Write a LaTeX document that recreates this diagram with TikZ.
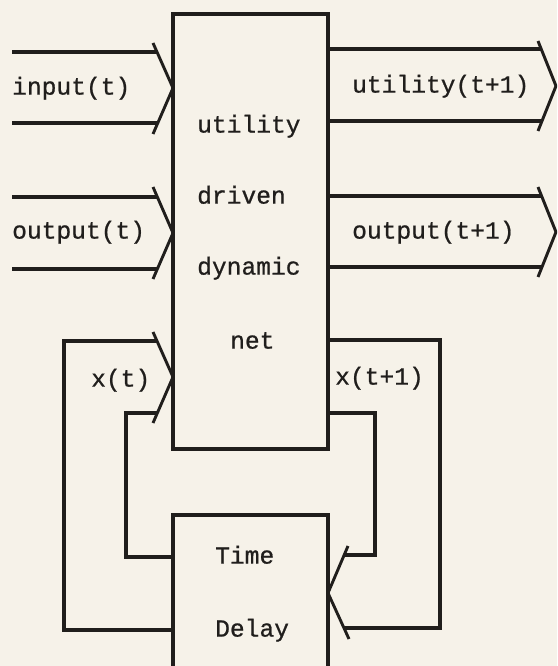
\documentclass[tikz,border=0pt]{standalone}
\usepackage{fontspec}
\newfontfamily\twfont[FakeBold=0.8]{Liberation Mono}
\definecolor{paper}{RGB}{246,242,233}
\definecolor{ink}{RGB}{32,30,28}
\begin{document}
\begin{tikzpicture}[x=1pt,y=-1pt,
  wire/.style={draw=ink,line width=3.4pt},
  arm/.style={draw=ink,line width=2.9pt},
  box/.style={draw=ink,line width=3.2pt,outer sep=0pt,inner sep=0pt,rectangle},
  tw/.style={font=\twfont\fontsize{24.6}{28}\selectfont,text=ink,anchor=west,
             inner sep=0pt,text height=0.72em,text depth=0.2em}]
\useasboundingbox (0,0) rectangle (557,666);
\fill[paper] (0,0) rectangle (557,666);
\clip (0,0) rectangle (557,666);

% boxes
\node[box,anchor=north west,minimum width=155pt,minimum height=435pt] (net) at (173,14) {};
\node[box,anchor=north west,minimum width=155pt,minimum height=220pt] (delay) at (173,515) {};

% box texts
\node[tw] (t1) at (197,130) {utility};
\node[tw] (t2) at (197,201) {driven};
\node[tw] (t3) at (197,272) {dynamic};
\node[tw] (t4) at (230,346) {net};
\node[tw] (t5) at (215,561) {Time};
\node[tw] (t6) at (215,634) {Delay};

% labels
\node[tw] (lin)  at (12,92)  {input(t)};
\node[tw] (lout) at (12,236) {output(t)};
\node[tw] (lx)   at (91,384) {x(t)};
\node[tw] (lu1)  at (352,90) {utility(t+1)};
\node[tw] (lo1)  at (352,236) {output(t+1)};
\node[tw] (lx1)  at (335,382) {x(t+1)};

% tips
\coordinate (tipIn)  at (173,88);
\coordinate (tipOut) at (173,233);
\coordinate (tipX)   at (173,377);
\coordinate (tipU1)  at (556,86);
\coordinate (tipO1)  at (556,232);
\coordinate (tipD)   at (328,593);

% input(t)
\draw[wire] (12,52) -- (157,52);
\draw[wire] (12,123) -- (157,123);
\draw[arm] (153,43) -- (tipIn) -- (153,134);

% output(t)
\draw[wire] (12,197) -- (157,197);
\draw[wire] (12,269) -- (157,269);
\draw[arm] (153,187) -- (tipOut) -- (153,279);

% x(t) with loop from delay
\draw[wire] (delay.west |- 0,630) -- (64,630) -- (64,341) -- (157,341);
\draw[wire] (delay.west |- 0,557) -- (126,557) -- (126,413) -- (157,413);
\draw[arm] (153,332) -- (tipX) -- (153,423);

% utility(t+1)
\draw[wire] (net.east |- 0,49) -- (541,49);
\draw[wire] (net.east |- 0,121) -- (541,121);
\draw[arm] (538,41) -- (tipU1) -- (538,131);

% output(t+1)
\draw[wire] (net.east |- 0,196) -- (541,196);
\draw[wire] (net.east |- 0,267) -- (541,267);
\draw[arm] (538,187) -- (tipO1) -- (538,277);

% x(t+1) to delay
\draw[wire] (net.east |- 0,340) -- (440,340) -- (440,628) -- (343,628);
\draw[wire] (net.east |- 0,413) -- (375,413) -- (375,555) -- (344,555);
\draw[arm] (348,546) -- (tipD) -- (349,639);
\end{tikzpicture}
\end{document}
